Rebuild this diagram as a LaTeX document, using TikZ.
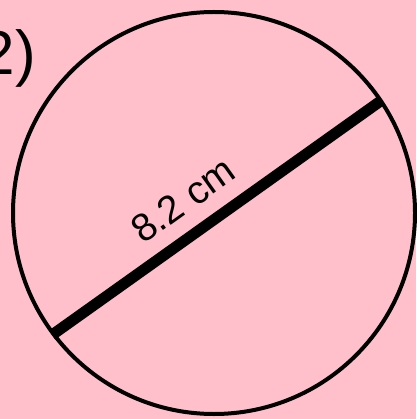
\documentclass[tikz,border=0pt]{standalone}
\usepackage{fontspec}
\setmainfont{Liberation Sans}
\definecolor{pinkbg}{RGB}{255,192,203}
\begin{document}
\begin{tikzpicture}[x=1pt,y=-1pt]
  % Background and bounding box
  \fill[pinkbg] (0,0) rectangle (416,419);
  \useasboundingbox (0,0) rectangle (416,419);
  % Circle
  \coordinate (O) at (214,213);
  \draw[line width=4pt] (O) circle (201pt);
  % Diameter
  \coordinate (A) at (52,335);
  \coordinate (B) at (382,100);
  \draw[line width=11pt] (A) -- (B);
  \node[rotate=35.5,inner sep=0] (len) at (183,200) {\fontsize{39}{46}\selectfont 8.2 cm};
  % Question number
  \node[anchor=base east,inner sep=0] (num) at (36,75) {\fontsize{62}{70}\selectfont 2)};
\end{tikzpicture}
\end{document}
